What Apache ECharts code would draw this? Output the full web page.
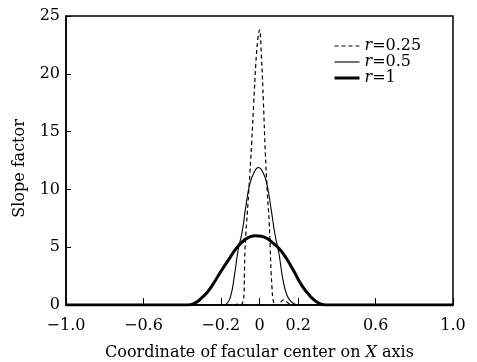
<!DOCTYPE html>
<html>
<head>
<meta charset="utf-8">
<script src="https://cdn.jsdelivr.net/npm/echarts@6/dist/echarts.min.js"></script>
<style>
html,body{margin:0;padding:0;background:#fff;}
#c{width:477px;height:362px;}
</style>
</head>
<body>
<div id="c"></div>
<script>
// Tick values and labels
var xTickValues = [-1.0, -0.6, -0.2, 0, 0.2, 0.6, 1.0];
var xTickLabels = ['\u22121.0', '\u22120.6', '\u22120.2', '0', '0.2', '0.6', '1.0'];

// Series names
var seriesNames = ['0.25', '0.5', '1'];

// r = 0.25 (dashed)
var xR025 = [-1, -0.13, -0.11, -0.095, -0.085, -0.08, -0.078, -0.075, -0.07, -0.06, -0.05, -0.04, -0.03, -0.02, -0.01, 0, 0.01, 0.02, 0.03, 0.04, 0.05, 0.055, 0.06, 0.065, 0.07, 0.08, 0.09, 0.10, 0.11, 0.123, 0.135, 0.15, 0.17, 0.19, 1];
var yR025 = [0, 0, 0.1, 0.05, 0.3, 1.0, 2.5, 4.8, 6.3, 8.7, 11.3, 14.2, 17.4, 20.6, 22.8, 23.8, 21.5, 17.6, 13.2, 9.8, 7.2, 5.0, 2.8, 1.4, 0.45, 0, -0.1, 0.05, 0.25, 0.45, 0.35, 0.15, 0.05, 0, 0];

// r = 0.5 (thin)
var xR05 = [-1, -0.19, -0.17, -0.15, -0.13, -0.11, -0.09, -0.07, -0.05, -0.03, -0.006, 0.02, 0.04, 0.06, 0.08, 0.10, 0.12, 0.14, 0.16, 0.18, 0.20, 1];
var yR05 = [0, 0, 0.1, 0.7, 2.5, 4.8, 6.3, 8.6, 10.5, 11.4, 11.9, 11.4, 10.3, 8.3, 6.1, 4.5, 2.3, 0.93, 0.35, 0.1, 0, 0];

// r = 1 (thick)
var xR1 = [-1, -0.37, -0.33, -0.30, -0.27, -0.24, -0.20, -0.16, -0.12, -0.08, -0.05, -0.02, 0.01, 0.04, 0.07, 0.10, 0.14, 0.18, 0.22, 0.26, 0.30, 0.33, 0.36, 1];
var yR1 = [0, 0, 0.2, 0.6, 1.1, 1.8, 2.9, 3.9, 4.9, 5.6, 5.9, 6.0, 5.95, 5.75, 5.35, 4.9, 4.0, 2.85, 1.65, 0.8, 0.22, 0.03, 0, 0];

function pairs(xs, ys) {
  var out = [];
  for (var i = 0; i < xs.length; i++) out.push([xs[i], ys[i]]);
  return out;
}

var FONT = 'DejaVu Serif';
var lineStyles = [
  {color: '#000', width: 1.2, type: [4, 3]},
  {color: '#000', width: 1.1, type: 'solid'},
  {color: '#000', width: 3, type: 'solid'}
];
var chart = echarts.init(document.getElementById('c'), null, {renderer: 'canvas'});
chart.setOption({
  animation: false,
  backgroundColor: '#fff',
  textStyle: {fontFamily: FONT, color: '#000'},
  grid: {left: 66, right: 24, top: 16, bottom: 57, outerBoundsMode: 'none', containLabel: false,
    show: true, borderColor: '#000', borderWidth: 1.5, backgroundColor: 'transparent'},
  legend: {
    orient: 'vertical',
    left: 328,
    top: 33,
    itemGap: 0,
    itemWidth: 25,
    itemHeight: 10,
    itemStyle: {opacity: 0},
    textStyle: {fontFamily: FONT, fontSize: 16, color: '#000', lineHeight: 16, padding: [0, 0, 0, 0],
      rich: {i: {fontFamily: FONT, fontSize: 16, fontStyle: 'italic', color: '#000', lineHeight: 16}}},
    formatter: function (name) { return '{i|r}=' + name; },
    data: seriesNames.map(function (n, i) { return {name: n, lineStyle: lineStyles[i], itemStyle: {opacity: 0}}; })
  },
  xAxis: {
    type: 'value', min: -1, max: 1,
    name: 'Coordinate of facular center on {i|X} axis',
    nameLocation: 'middle', nameGap: 40,
    nameTextStyle: {fontFamily: FONT, fontSize: 16, color: '#000',
      rich: {i: {fontFamily: FONT, fontSize: 16, fontStyle: 'italic', color: '#000'}}},
    axisLine: {show: true, onZero: false, lineStyle: {color: '#000', width: 1.5}},
    axisTick: {show: true, inside: true, length: 7, customValues: xTickValues, lineStyle: {color: '#000', width: 1}},
    axisLabel: {show: true, margin: 13, fontFamily: FONT, fontSize: 16, color: '#000', customValues: xTickValues,
      formatter: function (v) {
        for (var i = 0; i < xTickValues.length; i++) if (Math.abs(xTickValues[i] - v) < 1e-6) return xTickLabels[i];
        return '';
      }},
    splitLine: {show: false}
  },
  yAxis: {
    type: 'value', min: 0, max: 25, interval: 5,
    name: 'Slope factor', nameLocation: 'middle', nameGap: 38,
    nameTextStyle: {fontFamily: FONT, fontSize: 16, color: '#000', padding: [0, 16, 0, 0]},
    axisLine: {show: true, onZero: false, lineStyle: {color: '#000', width: 1.5}},
    axisTick: {show: true, inside: true, length: 5, lineStyle: {color: '#000', width: 1}},
    axisLabel: {show: true, margin: 6, fontFamily: FONT, fontSize: 16, color: '#000'},
    splitLine: {show: false}
  },
  series: [
    {name: seriesNames[0], type: 'line', data: pairs(xR025, yR025), smooth: 0.4, symbol: 'none', z: 2,
      lineStyle: lineStyles[0], itemStyle: {color: '#000'}},
    {name: seriesNames[1], type: 'line', data: pairs(xR05, yR05), smooth: 0.5, symbol: 'none', z: 3,
      lineStyle: lineStyles[1], itemStyle: {color: '#000'}},
    {name: seriesNames[2], type: 'line', data: pairs(xR1, yR1), smooth: 0.5, symbol: 'none', z: 4,
      lineStyle: lineStyles[2], itemStyle: {color: '#000'}}
  ]
});
</script>
</body>
</html>
